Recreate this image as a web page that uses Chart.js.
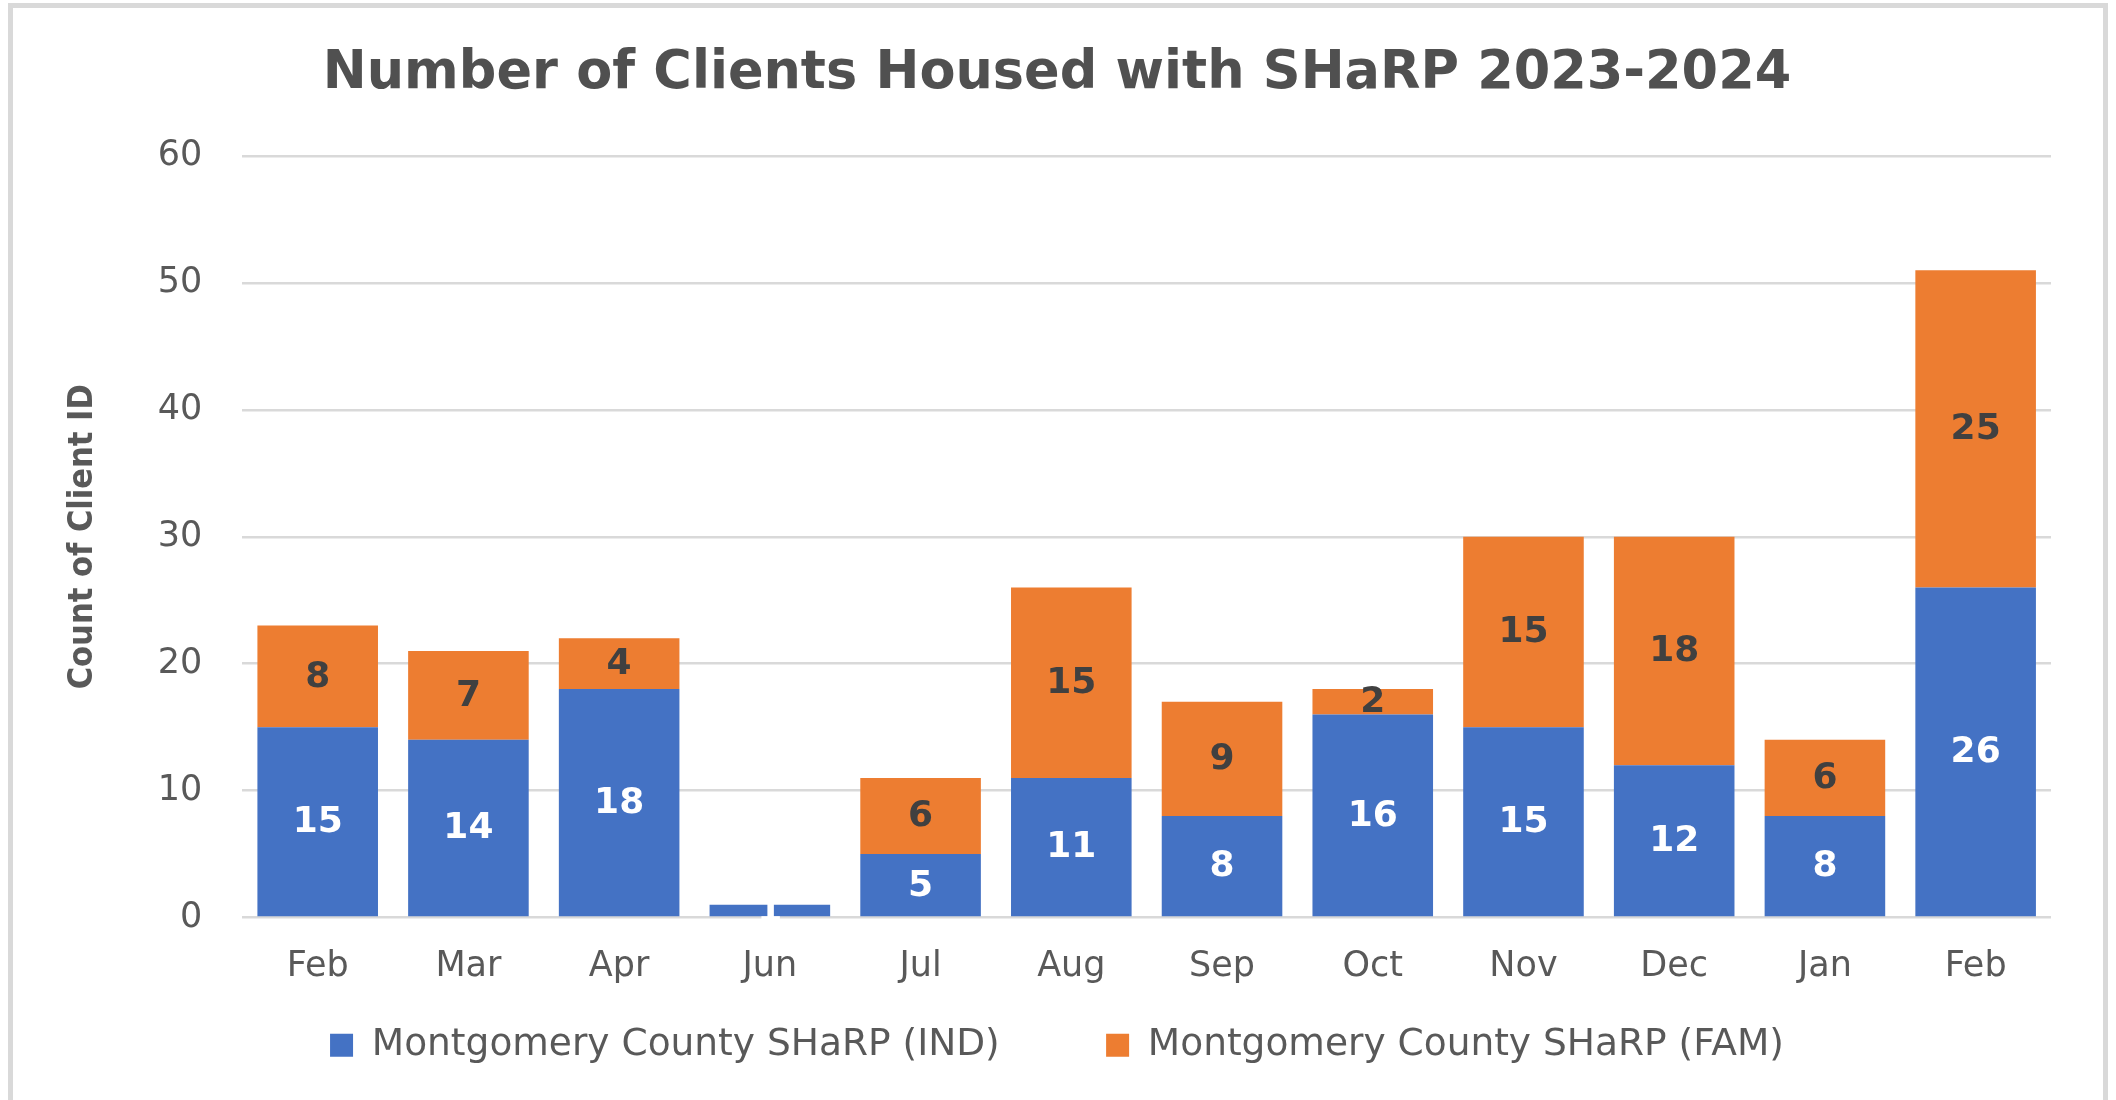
<!DOCTYPE html>
<html>
<head>
<meta charset="utf-8">
<script src="https://cdn.jsdelivr.net/npm/chart.js@4.4.1/dist/chart.umd.min.js"></script>
<style>
    html, body { margin: 0; padding: 0; background: #fff; overflow: hidden; }
    #frame {
        position: absolute;
        left: 8px;
        top: 3px;
        width: 2090px;
        height: 1200px;
        border: 5px solid #d9d9d9;
        background: #fff;
    }
    canvas { display: block; }
</style>
</head>
<body>
<div id="frame"><canvas id="chart" width="2090" height="1092"></canvas></div>
<script>
// months shown on the x axis
const months = ['Feb', 'Mar', 'Apr', 'Jun', 'Jul', 'Aug', 'Sep', 'Oct', 'Nov', 'Dec', 'Jan', 'Feb'];

// clients housed per month
const individuals = [15, 14, 18, 1, 5, 11, 8, 16, 15, 12, 8, 26];
const families = [8, 7, 4, 0, 6, 15, 9, 2, 15, 18, 6, 25];

const yTicks = [0, 10, 20, 30, 40, 50, 60];

const labelColors = ['#ffffff', '#404040'];

// draws the value in the middle of each bar segment
const segmentLabels = {
    id: 'segmentLabels',
    afterDatasetsDraw(chart) {
        const ctx = chart.ctx;
        ctx.save();
        ctx.font = 'bold 36px "DejaVu Sans"';
        ctx.textAlign = 'center';
        ctx.textBaseline = 'middle';
        chart.data.datasets.forEach((ds, di) => {
            const meta = chart.getDatasetMeta(di);
            ctx.fillStyle = labelColors[di];
            meta.data.forEach((bar, i) => {
                const v = ds.data[i];
                if (!v) return;
                ctx.fillText(String(v), bar.x, (bar.y + bar.base) / 2 + 1);
            });
        });
        ctx.restore();
    }
};

const ctx = document.getElementById('chart').getContext('2d');

new Chart(ctx, {
    type: 'bar',
    data: {
        labels: months,
        datasets: [
            {
                label: 'Montgomery County SHaRP (IND)',
                data: individuals,
                backgroundColor: '#4472c4',
                barPercentage: 0.8,
                categoryPercentage: 1
            },
            {
                label: 'Montgomery County SHaRP (FAM)',
                data: families,
                backgroundColor: '#ed7d31',
                barPercentage: 0.8,
                categoryPercentage: 1
            }
        ]
    },
    options: {
        responsive: false,
        animation: false,
        layout: {
            padding: { left: 50, right: 52, top: 0, bottom: 26 }
        },
        plugins: {
            title: {
                display: true,
                text: 'Number of Clients Housed with SHaRP 2023-2024',
                color: '#505050',
                font: { family: '"DejaVu Sans"', size: 52.5, weight: 'bold' },
                padding: { top: 35, bottom: 50 }
            },
            legend: {
                position: 'bottom',
                labels: {
                    color: '#595959',
                    font: { family: '"DejaVu Sans"', size: 37.5 },
                    boxWidth: 23,
                    boxHeight: 23,
                    padding: 11,
                    // legend padding is kept small vertically, so the gap
                    // between the two entries comes from trailing spaces
                    generateLabels(chart) {
                        const items = Chart.defaults.plugins.legend.labels.generateLabels(chart);
                        items.forEach((item, i) => {
                            if (i < items.length - 1) item.text += ' '.repeat(8);
                        });
                        return items;
                    }
                }
            },
            tooltip: { enabled: false }
        },
        scales: {
            x: {
                stacked: true,
                grid: { display: false, drawTicks: false },
                border: { display: false },
                ticks: {
                    color: '#595959',
                    font: { family: '"DejaVu Sans"', size: 35 },
                    padding: 28
                }
            },
            y: {
                stacked: true,
                min: 0,
                max: 60,
                afterBuildTicks(scale) {
                    scale.ticks = yTicks.map(v => ({ value: v }));
                },
                grid: { color: '#d9d9d9', lineWidth: 2.5, drawTicks: false },
                border: { display: false },
                ticks: {
                    color: '#595959',
                    font: { family: '"DejaVu Sans"', size: 35 },
                    padding: 40
                },
                title: {
                    display: true,
                    text: 'Count of Client ID',
                    color: '#595959',
                    font: { family: '"Liberation Sans Narrow", "DejaVu Sans Condensed", sans-serif', size: 34, weight: 'bold' },
                    padding: { top: 0, bottom: 14 }
                }
            }
        }
    },
    plugins: [segmentLabels]
});
</script>
</body>
</html>
